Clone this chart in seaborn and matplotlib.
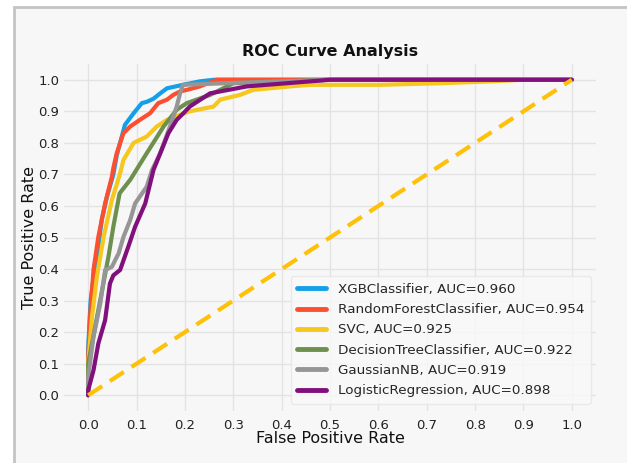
import numpy as np
import pandas as pd
import matplotlib
matplotlib.use("Agg")
import matplotlib.pyplot as plt
from matplotlib.patches import Rectangle
import seaborn as sns

models = ["XGBClassifier", "RandomForestClassifier", "SVC",
          "DecisionTreeClassifier", "GaussianNB", "LogisticRegression"]
aucs = [0.960, 0.954, 0.925, 0.922, 0.919, 0.898]
colors = ["#14a0e6", "#fc4f30", "#f5c71f", "#6d904f", "#969696", "#810f7c"]

xgb_fpr = [0, 0, 0.005, 0.01, 0.014, 0.021, 0.028, 0.039, 0.052, 0.059, 0.066, 0.076,
           0.094, 0.111, 0.121, 0.135, 0.149, 0.163, 0.196, 0.231, 0.26, 0.5, 1.0]
xgb_tpr = [0, 0.15, 0.3, 0.36, 0.40, 0.47, 0.556, 0.63, 0.70, 0.76, 0.80, 0.857,
           0.894, 0.926, 0.93, 0.94, 0.957, 0.973, 0.984, 0.995, 1.0, 1.0, 1.0]

rf_fpr = [0, 0, 0.004, 0.011, 0.021, 0.035, 0.049, 0.052, 0.059, 0.073, 0.087, 0.107,
          0.128, 0.145, 0.163, 0.176, 0.19, 0.204, 0.231, 0.266, 1.0]
rf_tpr = [0, 0.12, 0.25, 0.397, 0.502, 0.608, 0.693, 0.72, 0.767, 0.831, 0.852, 0.873,
          0.894, 0.926, 0.937, 0.952, 0.963, 0.968, 0.979, 1.0, 1.0]

svc_fpr = [0, 0, 0.008, 0.018, 0.032, 0.049, 0.066, 0.073, 0.094, 0.121, 0.142, 0.163,
           0.19, 0.21, 0.259, 0.273, 0.314, 0.341, 0.417, 0.459, 0.603, 0.727, 0.835, 0.9, 1.0]
svc_tpr = [0, 0.1, 0.25, 0.376, 0.502, 0.619, 0.703, 0.746, 0.8, 0.82, 0.852, 0.873,
           0.889, 0.9, 0.915, 0.937, 0.952, 0.968, 0.979, 0.984, 0.984, 0.989, 0.995, 1.0, 1.0]

dt_fpr = [0, 0, 0.042, 0.052, 0.065, 0.087, 0.121, 0.156, 0.183, 0.204, 0.252, 0.3, 0.5, 1.0]
dt_tpr = [0, 0.1, 0.44, 0.534, 0.64, 0.683, 0.767, 0.852, 0.905, 0.926, 0.952, 0.989, 1.0, 1.0]

gnb_fpr = [0, 0, 0.011, 0.025, 0.035, 0.049, 0.063, 0.073, 0.087, 0.097, 0.121, 0.132,
           0.149, 0.169, 0.183, 0.19, 0.196, 0.3, 0.5, 1.0]
gnb_tpr = [0, 0.058, 0.185, 0.291, 0.397, 0.407, 0.45, 0.502, 0.556, 0.608, 0.661, 0.714,
           0.767, 0.852, 0.915, 0.957, 0.984, 0.99, 1.0, 1.0]

lr_fpr = [0, 0, 0.011, 0.021, 0.035, 0.045, 0.052, 0.066, 0.083, 0.097, 0.118, 0.135,
          0.149, 0.166, 0.183, 0.197, 0.21, 0.252, 0.328, 0.41, 0.5, 1.0]
lr_tpr = [0, 0.016, 0.079, 0.164, 0.238, 0.354, 0.38, 0.397, 0.471, 0.534, 0.608, 0.714,
          0.767, 0.831, 0.873, 0.894, 0.915, 0.957, 0.979, 0.989, 1.0, 1.0]

diag_x = [0.0, 1.0]
diag_y = [0.0, 1.0]
ticks = [0.0, 0.1, 0.2, 0.3, 0.4, 0.5, 0.6, 0.7, 0.8, 0.9, 1.0]

curves = [(xgb_fpr, xgb_tpr), (rf_fpr, rf_tpr), (svc_fpr, svc_tpr),
          (dt_fpr, dt_tpr), (gnb_fpr, gnb_tpr), (lr_fpr, lr_tpr)]

rows = []
labels = []
for m, a, (f, t) in zip(models, aucs, curves):
    lab = f"{m}, AUC={a:.3f}"
    labels.append(lab)
    for i, (fx, ty) in enumerate(zip(f, t)):
        rows.append({"fpr": fx, "tpr": ty, "model": lab, "order": i})
df = pd.DataFrame(rows)

sns.set_theme(style="whitegrid")
plt.rcParams["font.family"] = ["DejaVu Sans"]

bg = "#f7f7f7"
fig = plt.figure(figsize=(6.27, 4.63), dpi=100, facecolor="white")
fig.patches.append(Rectangle((14 / 627, -0.05), 1.1, 1.05 - 7 / 463,
                             transform=fig.transFigure, facecolor=bg,
                             edgecolor="#c4c4c4", linewidth=2.0, zorder=-10))
ax = fig.add_axes([64 / 627, 1 - 411 / 463, (596 - 64) / 627, (411 - 64) / 463])
ax.set_facecolor(bg)

sns.lineplot(data=df, x="fpr", y="tpr", hue="model", hue_order=labels,
             palette=colors, sort=False, estimator=None, linewidth=3.0, ax=ax)
ax.plot(diag_x, diag_y, linestyle=(0, (4, 2.2)), color="#ffc107", linewidth=3.0)

ax.set_xlim(-0.05, 1.05)
ax.set_ylim(-0.05, 1.05)
ax.set_xticks(ticks)
ax.set_yticks(ticks)
ax.set_xticklabels([f"{v:.1f}" for v in ticks])
ax.set_yticklabels([f"{v:.1f}" for v in ticks])
ax.tick_params(axis="both", length=0, labelsize=9.5, colors="#222222")
ax.tick_params(axis="x", pad=6)
ax.tick_params(axis="y", pad=3.5)
ax.grid(True, color="#e3e3e3", linewidth=1.0)
for s in ax.spines.values():
    s.set_visible(False)

ax.set_title("ROC Curve Analysis", fontsize=11.5, fontweight="bold", color="#111111", pad=6)
ax.set_xlabel("False Positive Rate", fontsize=11.5, color="#111111", labelpad=-1)
ax.set_ylabel("True Positive Rate", fontsize=11.5, color="#111111", labelpad=1)

leg = ax.legend(loc="lower right", fontsize=9.7, frameon=True, handlelength=2.1,
                borderpad=0.5, labelspacing=0.54, handletextpad=0.9,
                borderaxespad=0.0, bbox_to_anchor=(0.9906, 0.020))
leg.get_frame().set_facecolor("#f9f9f9")
leg.get_frame().set_edgecolor("#e6e6e6")
for h in leg.get_lines():
    h.set_linewidth(3.5)

fig.savefig("out.png", dpi=100, facecolor=fig.get_facecolor())
